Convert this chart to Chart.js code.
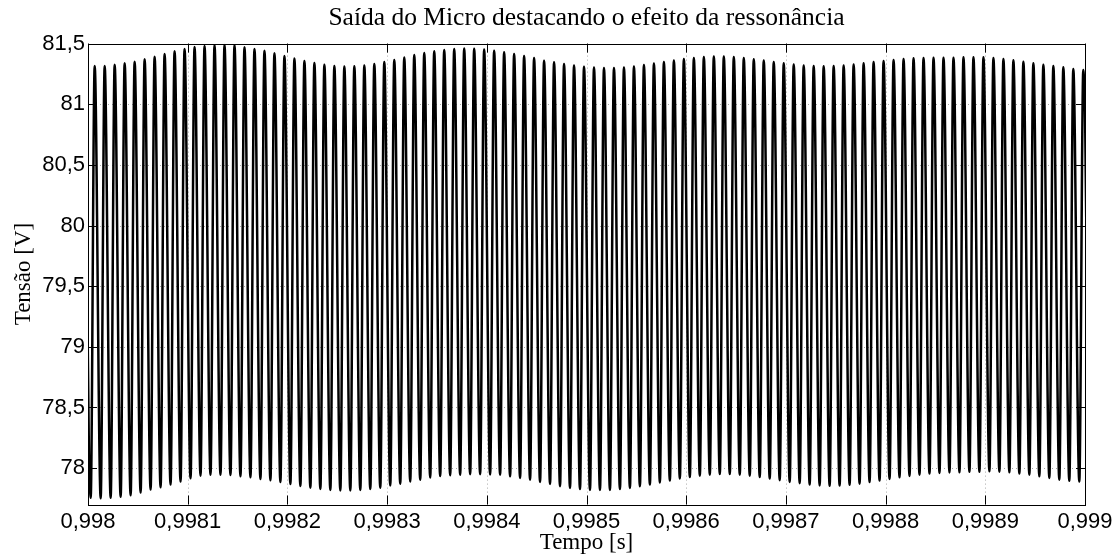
<!DOCTYPE html>
<html><head><meta charset="utf-8">
<script src="https://cdn.jsdelivr.net/npm/chart.js@4.4.0/dist/chart.umd.min.js"></script>
<style>html,body{margin:0;padding:0;background:#fff;overflow:hidden}</style>
</head><body>
<canvas id="c" width="1118" height="554"></canvas>
<script>
const titleText = 'Saída do Micro destacando o efeito da ressonância';
const xTitle = 'Tempo [s]';
const yTitle = 'Tensão [V]';
const xTickValues = [0.998, 0.9981, 0.9982, 0.9983, 0.9984, 0.9985, 0.9986, 0.9987, 0.9988, 0.9989, 0.999];
const xTickLabels = ['0,998','0,9981','0,9982','0,9983','0,9984','0,9985','0,9986','0,9987','0,9988','0,9989','0,999'];
const yTickValues = [78, 78.5, 79, 79.5, 80, 80.5, 81, 81.5];
const yTickLabels = ['78','78,5','79','79,5','80','80,5','81','81,5'];
const xRange = [0.998, 0.999];
const yRange = [77.7, 81.5];

// oscillation timing (seconds)
const firstTroughTime = 0.9980027;
const cyclePeriod = 10.016e-6;
const riseDuration = 4.0e-6;

// crest of each cycle (first one lies just before the left edge), volts
const peakVolts = [
 81.315, 81.315, 81.315, 81.326, 81.338, 81.351, 81.371, 81.392, 81.414, 81.437, 81.456,
 81.472, 81.480, 81.486, 81.488, 81.486, 81.470, 81.456, 81.442, 81.420, 81.398,
 81.377, 81.357, 81.340, 81.325, 81.315, 81.311, 81.313, 81.320, 81.332, 81.348,
 81.365, 81.386, 81.406, 81.423, 81.437, 81.447, 81.456, 81.460, 81.458, 81.451,
 81.441, 81.428, 81.414, 81.398, 81.381, 81.359, 81.346, 81.332, 81.320, 81.310,
 81.303, 81.299, 81.299, 81.303, 81.311, 81.324, 81.336, 81.348, 81.361, 81.373,
 81.381, 81.390, 81.394, 81.394, 81.390, 81.381, 81.372, 81.361, 81.348, 81.338,
 81.328, 81.320, 81.315, 81.314, 81.315, 81.320, 81.328, 81.338, 81.348, 81.357,
 81.365, 81.373, 81.379, 81.381, 81.383, 81.384, 81.384, 81.387, 81.387, 81.387,
 81.381, 81.373, 81.362, 81.351, 81.338, 81.326, 81.315, 81.305, 81.291, 81.283
];
// valley of each cycle (last one lies just past the right edge), volts
const troughVolts = [
 77.755, 77.751, 77.755, 77.763, 77.776, 77.798, 77.823, 77.842, 77.864, 77.889,
 77.916, 77.938, 77.946, 77.946, 77.944, 77.932, 77.924, 77.911, 77.900, 77.885,
 77.868, 77.852, 77.839, 77.827, 77.819, 77.815, 77.815, 77.819, 77.827, 77.839,
 77.856, 77.872, 77.889, 77.905, 77.922, 77.934, 77.942, 77.946, 77.949, 77.949,
 77.948, 77.946, 77.932, 77.919, 77.905, 77.886, 77.870, 77.850, 77.837, 77.827,
 77.820, 77.819, 77.820, 77.827, 77.837, 77.850, 77.864, 77.881, 77.897, 77.914,
 77.926, 77.938, 77.946, 77.951, 77.951, 77.946, 77.938, 77.926, 77.914, 77.900,
 77.886, 77.875, 77.864, 77.857, 77.854, 77.856, 77.862, 77.872, 77.885, 77.897,
 77.911, 77.924, 77.936, 77.946, 77.955, 77.960, 77.964, 77.965, 77.969, 77.969,
 77.974, 77.971, 77.965, 77.955, 77.946, 77.932, 77.919, 77.905, 77.895, 77.889,
 77.881
];

const points = [];
for (let i = 0; i < peakVolts.length; i++) {
  points.push({x: firstTroughTime + (i - 1) * cyclePeriod + riseDuration, y: peakVolts[i]});
  if (i < troughVolts.length) points.push({x: firstTroughTime + i * cyclePeriod, y: troughVolts[i]});
}

const frame = {
  id: 'frame',
  beforeDatasetsDraw(chart) {
    const {ctx, chartArea: a, scales: {x, y}} = chart;
    ctx.save();
    ctx.strokeStyle = '#a8a8a8';
    ctx.lineWidth = 1;
    ctx.setLineDash([1, 3]);
    ctx.beginPath();
    xTickValues.forEach(v => { const p = Math.round(x.getPixelForValue(v)) + 0.5; ctx.moveTo(p, a.top); ctx.lineTo(p, a.bottom); });
    yTickValues.forEach(v => { const p = Math.round(y.getPixelForValue(v)) + 0.5; ctx.moveTo(a.left, p); ctx.lineTo(a.right, p); });
    ctx.stroke();
    ctx.restore();
  },
  afterDatasetsDraw(chart) {
    const {ctx, chartArea: a, scales: {x, y}} = chart;
    const L = 9;
    ctx.save();
    ctx.strokeStyle = '#000';
    ctx.lineWidth = 1;
    ctx.setLineDash([]);
    ctx.beginPath();
    xTickValues.forEach(v => { const p = Math.round(x.getPixelForValue(v)) + 0.5;
      ctx.moveTo(p, a.bottom); ctx.lineTo(p, a.bottom - L); ctx.moveTo(p, a.top); ctx.lineTo(p, a.top + L); });
    yTickValues.forEach(v => { const p = Math.round(y.getPixelForValue(v)) + 0.5;
      ctx.moveTo(a.left, p); ctx.lineTo(a.left + L, p); ctx.moveTo(a.right, p); ctx.lineTo(a.right - L, p); });
    ctx.stroke();
    ctx.strokeRect(Math.round(a.left) + 0.5, Math.round(a.top) + 0.5, Math.round(a.right - a.left), Math.round(a.bottom - a.top));
    ctx.restore();
  }
};

new Chart(document.getElementById('c'), {
  type: 'line',
  data: { datasets: [{
    data: points,
    borderColor: '#000',
    borderWidth: 2.5,
    pointRadius: 0,
    fill: false,
    cubicInterpolationMode: 'monotone'
  }]},
  options: {
    responsive: false,
    animation: false,
    devicePixelRatio: 1,
    layout: { padding: { left: 0, right: 33, top: 0, bottom: 0 } },
    plugins: {
      legend: { display: false },
      tooltip: { enabled: false },
      title: {
        display: true, text: titleText, fullSize: false, color: '#000',
        font: { family: 'Liberation Serif', size: 25.5, weight: 'normal', lineHeight: 1 },
        padding: { top: 5.5, bottom: 12.6 }
      }
    },
    scales: {
      x: {
        type: 'linear', position: 'bottom', min: xRange[0], max: xRange[1],
        afterBuildTicks: s => { s.ticks = xTickValues.map(v => ({value: v})); },
        afterFit: s => { s.height = 49.5; },
        ticks: { color: '#000', padding: 4, maxRotation: 0, autoSkip: false,
          font: { family: 'Liberation Sans', size: 22 },
          callback: (v, i) => xTickLabels[i] },
        grid: { display: false, drawTicks: false },
        border: { display: false },
        title: { display: true, text: xTitle, color: '#000',
          font: { family: 'Liberation Serif', size: 23, lineHeight: 1 }, padding: { top: 0, bottom: 0 } }
      },
      y: {
        type: 'linear', position: 'left', min: yRange[0], max: yRange[1],
        afterBuildTicks: s => { s.ticks = yTickValues.map(v => ({value: v})); },
        afterFit: s => { s.width = 88; },
        ticks: { color: '#000', padding: 3, autoSkip: false,
          font: { family: 'Liberation Sans', size: 22 },
          callback: (v, i) => yTickLabels[i] },
        grid: { display: false, drawTicks: false },
        border: { display: false },
        title: { display: true, text: yTitle, color: '#000',
          font: { family: 'Liberation Serif', size: 23, lineHeight: 1 }, padding: { top: 12.5, bottom: 0 } }
      }
    }
  },
  plugins: [frame]
});
</script>
</body></html>
